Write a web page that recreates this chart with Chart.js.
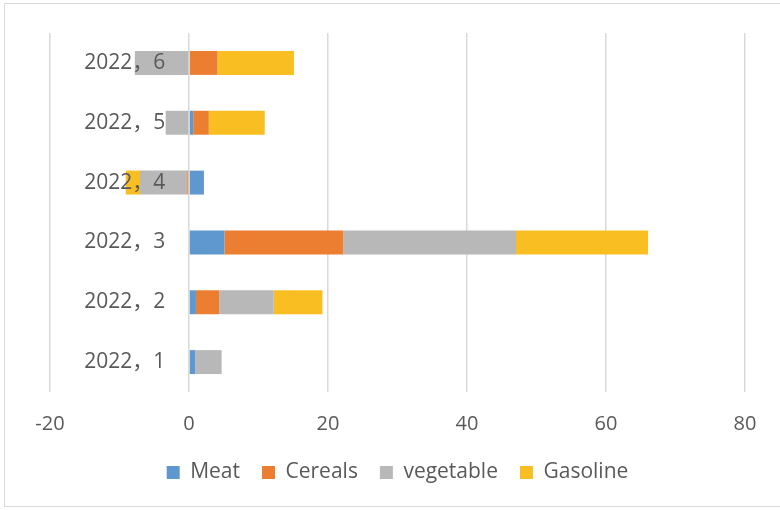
<!DOCTYPE html>
<html>
<head>
<meta charset="utf-8">
<script src="https://cdn.jsdelivr.net/npm/chart.js@4"></script>
<style>
  html, body { margin: 0; padding: 0; background: #fff; overflow: hidden; }
  #wrap { position: relative; width: 780px; height: 510px; }
  #frame { position: absolute; left: 4px; top: 3px; width: 790px; height: 504px;
           border: 1.5px solid #d9d9d9; box-sizing: border-box; pointer-events: none; }
  canvas { position: absolute; left: 0; top: 0; }
</style>
</head>
<body>
<div id="wrap">
  <canvas id="chart" width="780" height="510"></canvas>
  <div id="frame"></div>
</div>
<script>
// Months of 2022, listed bottom to top
const categories = ['2022，1', '2022，2', '2022，3', '2022，4', '2022，5', '2022，6'];

// Contribution of each item per month
const meat      = [0.9, 1.0, 5.1, 2.15, 0.6, 0];
const cereals   = [0, 3.35, 17.1, -0.25, 2.25, 4.1];
const vegetable = [3.8, 7.85, 24.85, -6.8, -3.35, -7.8];
const gasoline  = [0, 7.0, 19.0, -2.05, 8.05, 11.0];

const xTicks = [-20, 0, 20, 40, 60, 80];

const textColor = '#595959';
const gridColor = '#d9d9d9';
const fontFamily = '"Open Sans", "Noto Sans CJK SC", sans-serif';

const series = [
  { label: 'Meat',      data: meat,      color: '#5f98cf' },
  { label: 'Cereals',   data: cereals,   color: '#ec7e32' },
  { label: 'vegetable', data: vegetable, color: '#b8b8b8' },
  { label: 'Gasoline',  data: gasoline,  color: '#f9bf22' }
];

new Chart(document.getElementById('chart'), {
  type: 'bar',
  data: {
    labels: categories,
    datasets: series.map(s => ({
      label: s.label,
      data: s.data,
      backgroundColor: s.color,
      borderWidth: 0,
      barPercentage: 1,
      categoryPercentage: 0.4
    }))
  },
  options: {
    indexAxis: 'y',
    responsive: false,
    animation: false,
    layout: { padding: { left: 50, right: 35, top: 33, bottom: 17 } },
    plugins: {
      tooltip: { enabled: false },
      legend: {
        position: 'bottom',
        labels: {
          color: textColor,
          font: { family: fontFamily, size: 21 },
          boxWidth: 13,
          boxHeight: 13,
          padding: 22
        }
      }
    },
    scales: {
      x: {
        type: 'linear',
        stacked: true,
        min: xTicks[0],
        max: xTicks[xTicks.length - 1],
        afterBuildTicks: scale => { scale.ticks = xTicks.map(v => ({ value: v })); },
        afterFit: scale => { scale.height -= 16; },
        grid: { color: gridColor, lineWidth: 1.5, drawTicks: false },
        border: { display: false },
        ticks: {
          color: textColor,
          font: { family: fontFamily, size: 20 },
          padding: 20
        }
      },
      y: {
        stacked: true,
        reverse: true,
        // category labels sit just left of the zero line, over the bars
        position: { x: -3.4 },
        grid: { display: false },
        border: { display: false },
        ticks: {
          z: 1,
          color: textColor,
          font: { family: fontFamily, size: 21 }
        }
      }
    }
  }
});
</script>
</body>
</html>
